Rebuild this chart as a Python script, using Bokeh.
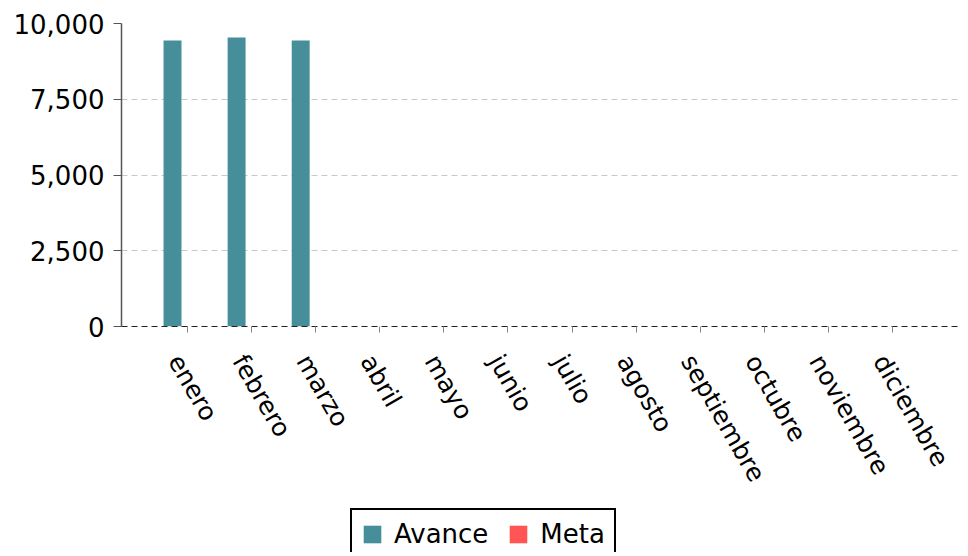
from bokeh.plotting import figure
from bokeh.layouts import column
from bokeh.models import FactorRange, Range1d, Legend, LegendItem, NumeralTickFormatter, ColumnDataSource, FixedTicker
from bokeh.core.properties import value
from bokeh.transform import dodge
from bokeh.embed import file_html
from bokeh.resources import INLINE
import math

months = ["enero", "febrero", "marzo", "abril", "mayo", "junio", "julio",
          "agosto", "septiembre", "octubre", "noviembre", "diciembre"]
avance = [9440, 9540, 9440, 0, 0, 0, 0, 0, 0, 0, 0, 0]
meta = [0, 0, 0, 0, 0, 0, 0, 0, 0, 0, 0, 0]
y_ticks = [0, 2500, 5000, 7500, 10000]
series_names = ["Avance", "Meta"]
series_colors = ["#468E9A", "#FF5555"]

FONT = "DejaVu Sans"
src = ColumnDataSource(dict(month=months, avance=avance, meta=meta))

xr = FactorRange(*months, range_padding=0.53, range_padding_units="absolute")
p = figure(x_range=xr, y_range=Range1d(0, 10000),
           width=964, height=346, output_backend="svg", toolbar_location=None,
           min_border_left=121, min_border_right=6, min_border_top=23, min_border_bottom=20)
p.outline_line_color = None

p.vbar(x=dodge("month", -0.234, range=xr), top="avance", width=0.28,
       source=src, fill_color=series_colors[0], line_color=None)
p.vbar(x=dodge("month", 0.05, range=xr), top="meta", width=0.28,
       source=src, fill_color=series_colors[1], line_color=None)

# grid
p.xgrid.grid_line_color = None
p.ygrid.grid_line_color = "#c8c8c8"
p.ygrid.grid_line_dash = "6 4"
p.ygrid.grid_line_width = 1.2

# y axis
p.yaxis.ticker = FixedTicker(ticks=y_ticks)
p.yaxis.formatter = NumeralTickFormatter(format="0,0")
p.yaxis.major_label_text_font = FONT
p.yaxis.major_label_text_font_size = "26px"
p.yaxis.major_label_text_color = "black"
p.yaxis.axis_line_color = "#555555"
p.yaxis.axis_line_width = 1.5
p.yaxis.major_tick_line_color = "#555555"
p.yaxis.major_tick_out = 8
p.yaxis.major_tick_in = 0
p.yaxis.minor_tick_line_color = None
p.yaxis.major_label_standoff = 9

# x axis (ticks and dashed line; labels drawn in the strip below)
p.xaxis.axis_line_color = "#222222"
p.xaxis.axis_line_dash = "6 4"
p.xaxis.axis_line_width = 1.2
p.xaxis.major_tick_line_color = "#888888"
p.xaxis.major_tick_out = 6
p.xaxis.major_tick_in = 0
p.xaxis.major_label_text_color = None
p.xaxis.major_label_standoff = 0

# strip below: rotated month labels and legend
lg = figure(width=964, height=206, x_range=xr, y_range=Range1d(0, 206),
            x_axis_type=None, y_axis_type=None, output_backend="svg", toolbar_location=None,
            min_border_left=121, min_border_right=6, min_border_top=0, min_border_bottom=0)
lg.outline_line_color = None
lg.xgrid.grid_line_color = None
lg.ygrid.grid_line_color = None
lsrc = ColumnDataSource(dict(month=months, y=[203] * len(months)))
lg.text(x="month", y="y", text="month", source=lsrc, angle=-math.pi / 3,
        text_align="left", text_baseline="top", text_font=value(FONT),
        text_font_size="25px", text_color="black")

items = []
for name, color in zip(series_names, series_colors):
    r = lg.vbar(x=[months[0]], bottom=[0], top=[0], width=0.1, fill_color=color, line_color=None)
    items.append(LegendItem(label=name, renderers=[r]))
legend = Legend(items=items, location=(229, -8), orientation="horizontal")
legend.label_text_font = FONT
legend.label_text_font_size = "26px"
legend.label_text_color = "black"
legend.glyph_width = 22
legend.glyph_height = 22
legend.label_standoff = 11
legend.spacing = 19
legend.padding = 9
legend.margin = 0
legend.border_line_color = "black"
legend.border_line_alpha = 1
legend.border_line_width = 2
lg.add_layout(legend, "center")

layout = column(p, lg, spacing=0)
open("out.html", "w").write(file_html(layout, INLINE))
